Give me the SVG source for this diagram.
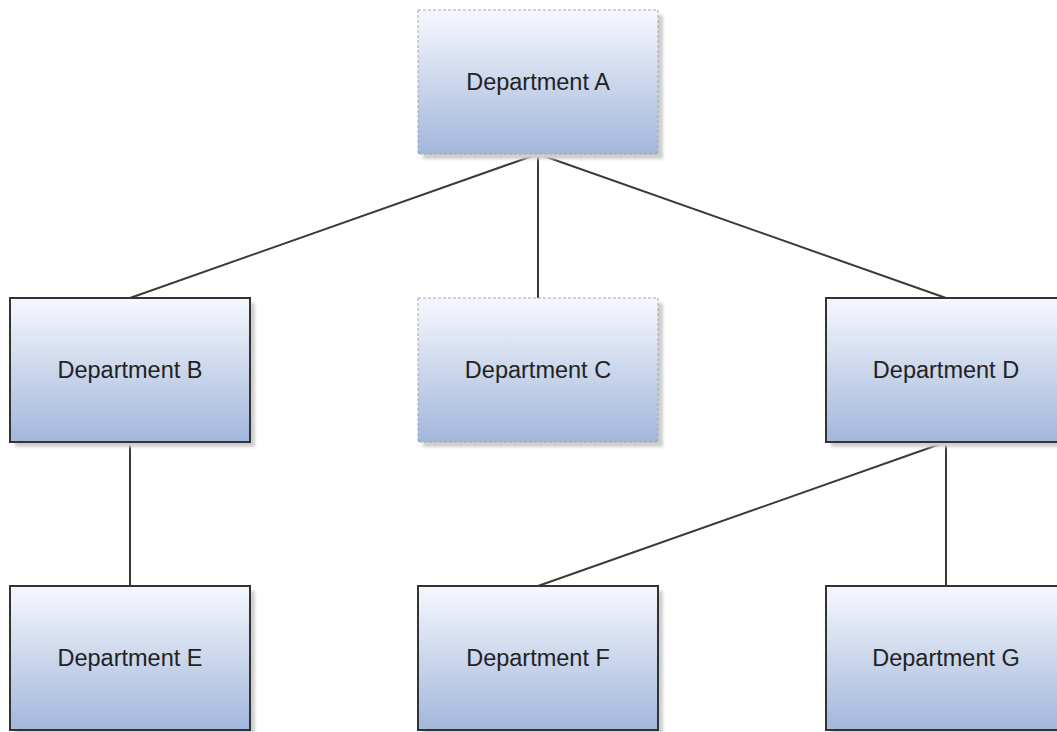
<svg xmlns="http://www.w3.org/2000/svg" width="1057" height="732" viewBox="0 0 1057 732">
<defs>
<linearGradient id="g" x1="0" y1="0" x2="0" y2="1">
<stop offset="0" stop-color="#f6f8fd"/>
<stop offset="0.5" stop-color="#ccd7ec"/>
<stop offset="1" stop-color="#a2b6dc"/>
</linearGradient>
<filter id="sh" x="-10%" y="-10%" width="130%" height="130%">
<feGaussianBlur stdDeviation="1.5"/>
</filter>
</defs>
<style>
.shadow{fill:#cfcfcf;filter:url(#sh)}
.box{fill:url(#g);stroke:#333;stroke-width:2}
.dash{fill:url(#g);stroke:#a8a8a8;stroke-width:1;stroke-dasharray:3 2}
.lbl{font-family:"Liberation Sans",Arial,sans-serif;font-size:23.5px;fill:#222;text-anchor:middle}
.conn{stroke:#3a3a3a;stroke-width:2;fill:none}
</style>
<rect width="1057" height="732" fill="#fff"/>
<g id="connectors">
<line class="conn" x1="538" y1="154" x2="130" y2="298"/>
<line class="conn" x1="538" y1="154" x2="538" y2="298"/>
<line class="conn" x1="538" y1="154" x2="946" y2="298"/>
<line class="conn" x1="130" y1="442" x2="130" y2="586"/>
<line class="conn" x1="946" y1="442" x2="538" y2="586"/>
<line class="conn" x1="946" y1="442" x2="946" y2="586"/>
</g>
<g id="nodeA">
<rect class="shadow" x="423" y="15" width="240" height="144"/>
<rect class="dash" x="418" y="10" width="240" height="144"/>
<text class="lbl" x="538" y="90">Department A</text>
</g>
<g id="nodeB">
<rect class="shadow" x="15" y="303" width="240" height="144"/>
<rect class="box" x="10" y="298" width="240" height="144"/>
<text class="lbl" x="130" y="378">Department B</text>
</g>
<g id="nodeC">
<rect class="shadow" x="423" y="303" width="240" height="144"/>
<rect class="dash" x="418" y="298" width="240" height="144"/>
<text class="lbl" x="538" y="378">Department C</text>
</g>
<g id="nodeD">
<rect class="shadow" x="831" y="303" width="240" height="144"/>
<rect class="box" x="826" y="298" width="240" height="144"/>
<text class="lbl" x="946" y="378">Department D</text>
</g>
<g id="nodeE">
<rect class="shadow" x="15" y="591" width="240" height="144"/>
<rect class="box" x="10" y="586" width="240" height="144"/>
<text class="lbl" x="130" y="666">Department E</text>
</g>
<g id="nodeF">
<rect class="shadow" x="423" y="591" width="240" height="144"/>
<rect class="box" x="418" y="586" width="240" height="144"/>
<text class="lbl" x="538" y="666">Department F</text>
</g>
<g id="nodeG">
<rect class="shadow" x="831" y="591" width="240" height="144"/>
<rect class="box" x="826" y="586" width="240" height="144"/>
<text class="lbl" x="946" y="666">Department G</text>
</g>
</svg>
